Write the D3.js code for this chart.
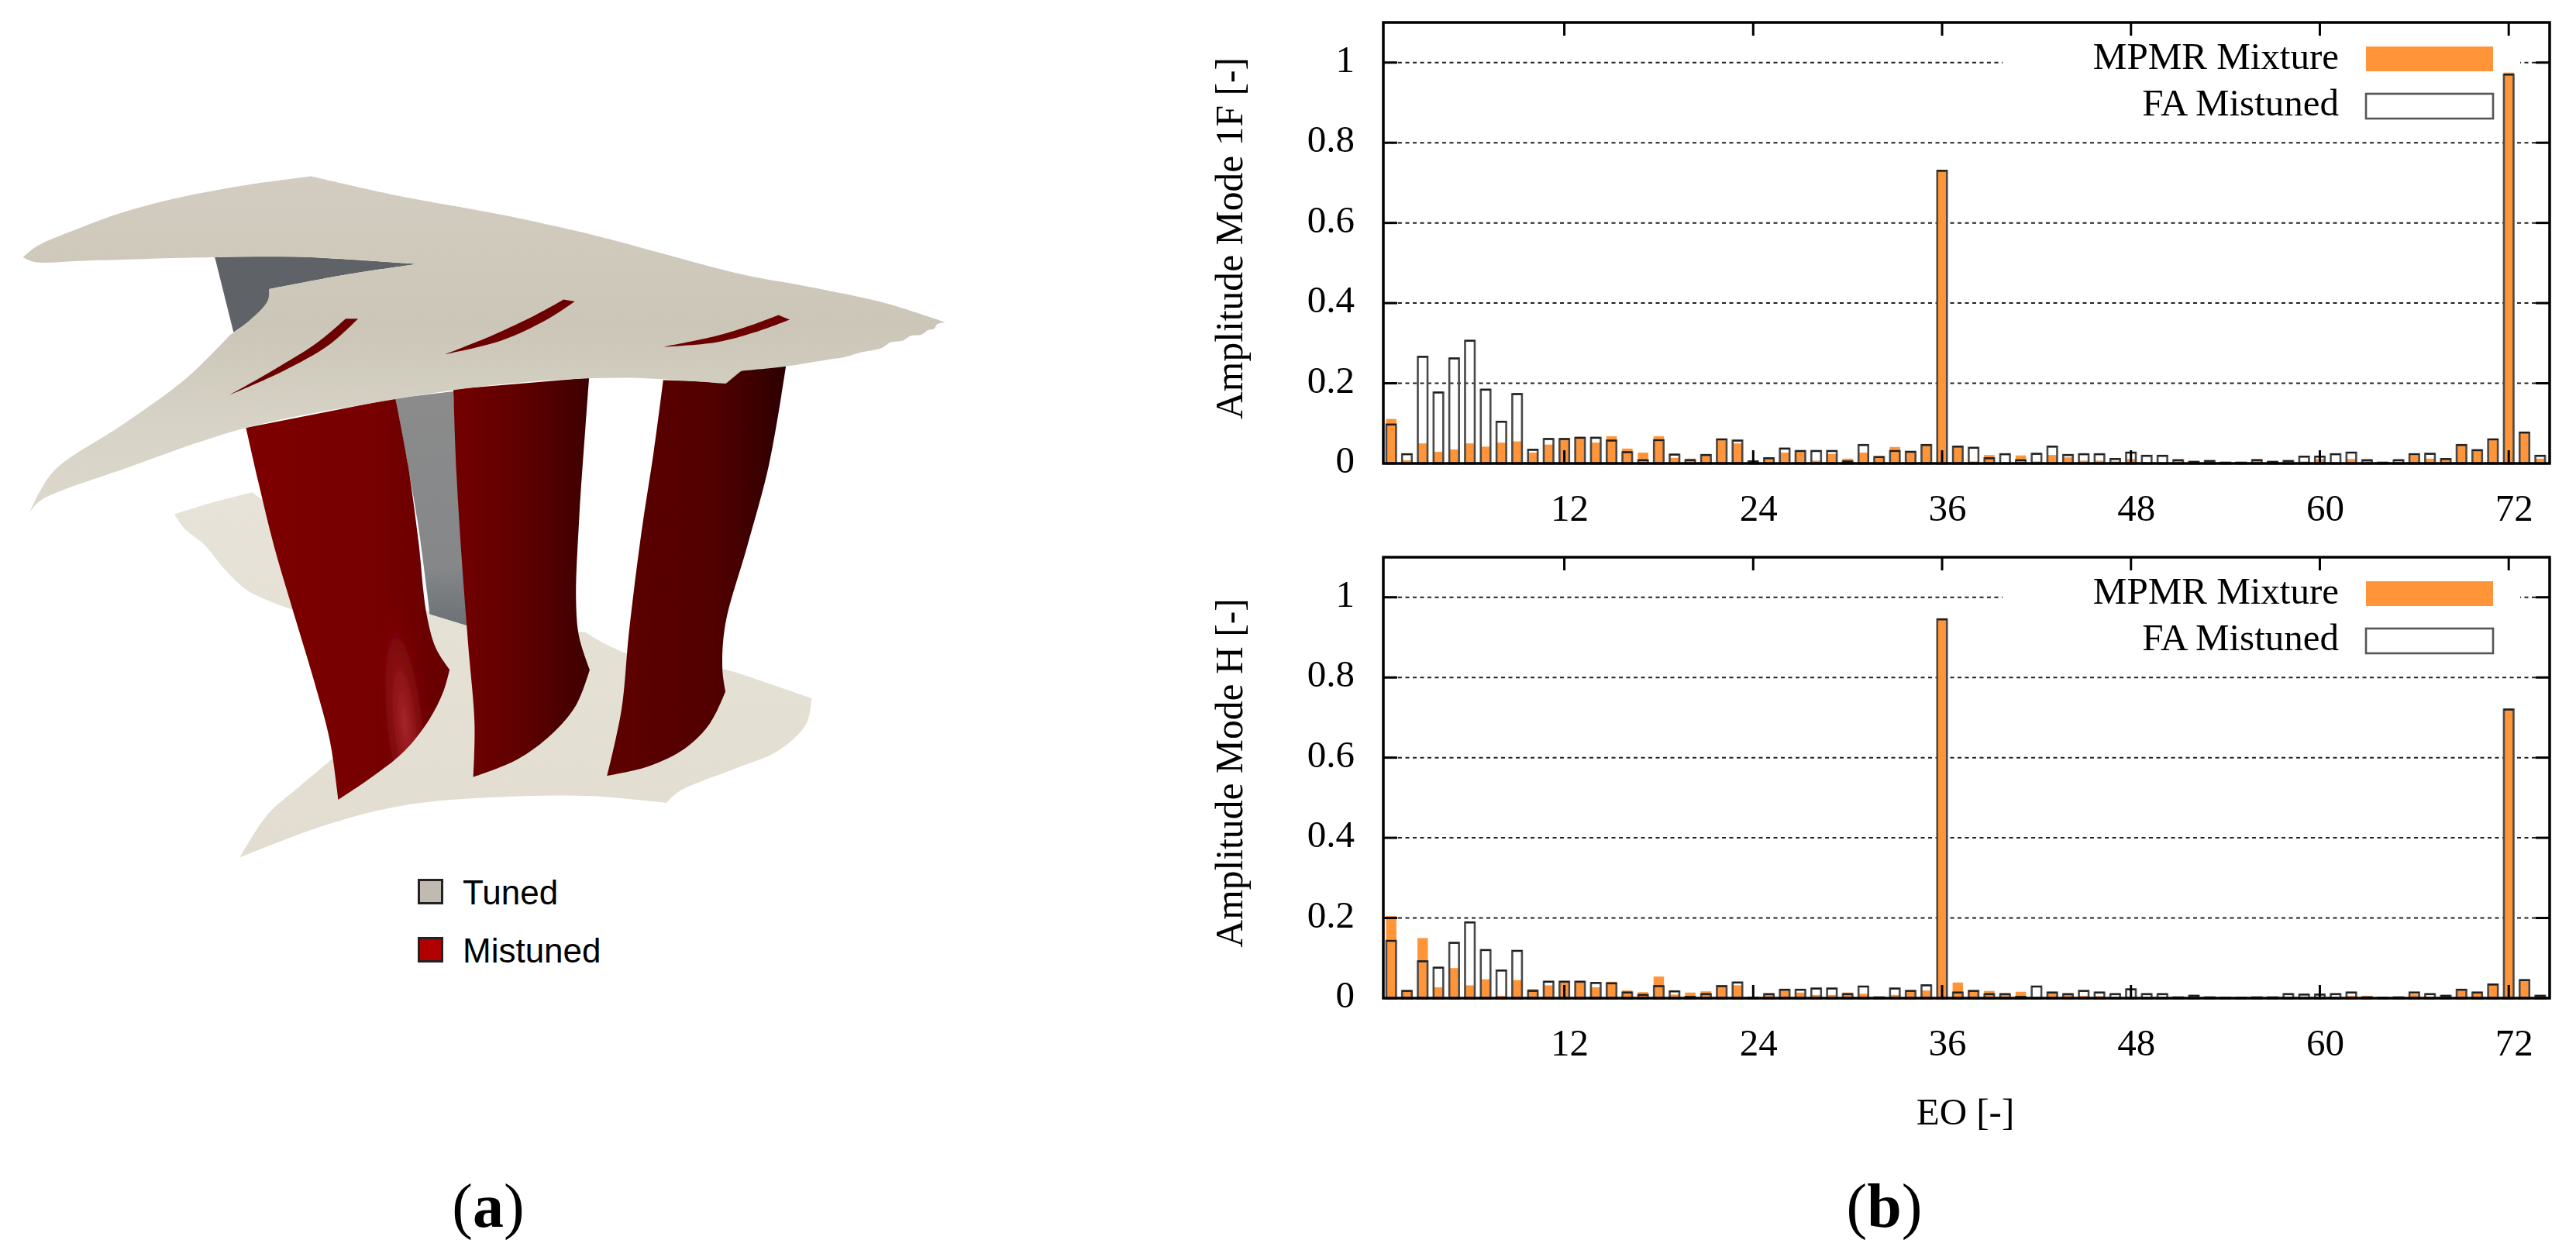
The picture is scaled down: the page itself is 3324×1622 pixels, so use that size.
<!DOCTYPE html>
<html><head><meta charset="utf-8">
<script src="https://cdnjs.cloudflare.com/ajax/libs/d3/7.8.5/d3.min.js"></script>
<style>html,body{margin:0;padding:0;background:#fff}svg{display:block}text{font-family:"Liberation Serif",serif;fill:#000}</style>
</head><body><svg id="c" width="3324" height="1622"></svg>
<script>
const orders = d3.range(1, 75);
const tickOrders = [12, 24, 36, 48, 60, 72];
const tickAmps = [0.2, 0.4, 0.6, 0.8, 1];
const seriesNames = ["MPMR Mixture", "FA Mistuned"];
const mpmr1F = [.111,.008,.05,.029,.035,.05,.042,.052,.055,.027,.047,.061,.066,.052,.068,.037,.027,.068,.014,.012,.019,.06,.05,.006,.013,.027,.031,.007,.024,.012,.027,.016,.041,.027,.046,.73,.042,.005,.021,.002,.02,.005,.021,.015,.007,.007,.005,.011,.003,.002,.008,.006,.006,.001,.001,.011,.005,.003,.005,.011,.002,.011,.007,.001,.005,.02,.012,.011,.046,.033,.06,.975,.077,.012];
const fa1F = [.097,.023,.266,.177,.262,.306,.184,.104,.173,.034,.061,.061,.064,.064,.057,.028,.008,.058,.022,.008,.021,.06,.057,.005,.013,.037,.031,.031,.031,.005,.046,.016,.031,.029,.046,.73,.042,.039,.013,.023,.008,.024,.042,.021,.023,.023,.011,.027,.019,.019,.008,.004,.006,.002,.002,.008,.004,.006,.017,.017,.023,.027,.008,.002,.008,.023,.024,.011,.046,.033,.06,.97,.077,.019];
const mpmrH = [.205,.018,.15,.027,.075,.032,.047,.006,.045,.023,.032,.041,.041,.027,.041,.019,.015,.054,.009,.014,.017,.03,.032,.001,.01,.021,.014,.008,.008,.014,.011,.001,.008,.018,.019,.945,.039,.018,.018,.01,.016,.003,.014,.01,.006,.005,.003,.003,.001,.001,.001,.001,.001,.002,.002,.001,.001,.003,.004,.004,.002,.006,.006,.002,.001,.01,.003,.006,.021,.014,.034,.72,.045,.006];
const faH = [.143,.018,.092,.076,.138,.189,.12,.069,.118,.018,.041,.041,.041,.038,.037,.014,.008,.03,.017,.003,.01,.03,.039,.001,.01,.021,.021,.024,.024,.01,.029,.002,.024,.018,.032,.945,.014,.018,.01,.01,.003,.029,.014,.01,.018,.014,.01,.022,.01,.01,.002,.006,.002,.001,.001,.002,.002,.01,.009,.009,.01,.014,.002,.001,.002,.014,.01,.006,.021,.014,.034,.72,.045,.006];

// Outlines of the rendered geometry in panel (a): each is a list of smooth edges that meet at corners.
const shroudEdges = [
 [[37,225],[60,200],[120,165],[200,125],[300,90],[400,65],[500,47]],
 [[500,47],[640,90],[800,130],[950,175],[1060,215],[1190,262],[1300,290],[1420,325],[1518,368]],
 [[1518,368],[1505,372],[1500,382],[1490,385],[1480,395],[1462,398],[1450,408],[1430,412],[1415,425],[1380,435],[1355,445],[1330,450],[1262,465],[1190,475]],
 [[1190,475],[1165,503]],
 [[1165,503],[1000,490],[800,505],[600,545],[395,600],[200,690],[65,760],[48,785]],
 [[48,785],[62,745],[90,690],[200,590],[300,490],[370,395]],
 [[370,395],[400,365],[430,320],[432,295]],
 [[432,295],[560,262],[670,240]],
 [[670,240],[500,225],[345,225],[150,232],[55,235],[37,225]]
];
const backDarkEdges = [[[345,225],[430,222],[500,225],[670,240]],[[670,240],[560,262],[432,295]],[[432,295],[432,320],[400,365],[375,390]],[[375,390],[345,225]]];
const backBladeEdges = [[[635,535],[728,520]],[[728,520],[735,700],[750,1035]],[[750,1035],[690,1010]],[[690,1010],[670,800],[635,535]]];
const hubEdges = [
 [[280,790],[340,765],[405,742]],
 [[405,742],[690,1005],[750,1030]],
 [[750,1030],[940,1050]],
 [[940,1050],[1005,1095],[1160,1130],[1240,1165],[1303,1195]],
 [[1303,1195],[1295,1250],[1250,1310],[1180,1350],[1090,1400],[1070,1425]],
 [[1070,1425],[950,1410],[800,1412],[650,1430],[520,1475],[385,1545]],
 [[385,1545],[430,1450],[480,1390],[545,1315]],
 [[545,1315],[470,1000]],
 [[470,1000],[400,960],[360,910],[330,860],[295,820],[280,790]]
];
const blade1Edges = [
 [[395,600],[415,720],[440,860],[470,1000],[505,1160],[530,1290],[543,1418]],
 [[543,1418],[600,1365],[650,1310],[690,1240],[712,1180],[722,1132]],
 [[722,1132],[700,1085],[685,1010],[672,850],[655,680],[635,535]]
];
const blade2Edges = [
 [[728,515],[733,700],[742,900],[752,1080],[762,1250],[760,1368]],
 [[760,1368],[830,1330],[885,1275],[925,1210],[947,1132]],
 [[947,1132],[930,1060],[925,980],[930,800],[940,600],[946,490]]
];
const blade3Edges = [
 [[1065,495],[1050,650],[1030,830],[1010,1050],[998,1220],[975,1365]],
 [[975,1365],[1040,1345],[1100,1305],[1140,1250],[1165,1180]],
 [[1165,1180],[1160,1130],[1165,1030],[1200,860],[1235,680],[1262,465]],
 [[1262,465],[1190,475],[1168,500]]
];
const slotEdges = [
 [[[368,528],[440,472],[510,412],[555,360]],[[555,360],[575,360]],[[575,360],[528,418],[455,475],[368,528]]],
 [[[715,438],[790,397],[860,352],[905,318]],[[905,318],[923,322]],[[923,322],[878,362],[805,408],[715,438]]],
 [[[1065,422],[1150,398],[1205,375],[1250,352]],[[1250,352],[1268,362]],[[1268,362],[1212,390],[1150,412],[1065,422]]]
];

const svg = d3.select("#c");
const defs = svg.append("defs");
defs.append("filter").attr("id","soft").attr("x","-5%").attr("y","-5%").attr("width","110%").attr("height","110%")
  .append("feGaussianBlur").attr("stdDeviation",0.75);
defs.append("filter").attr("id","edge").attr("x","-5%").attr("y","-5%").attr("width","110%").attr("height","110%")
  .append("feGaussianBlur").attr("stdDeviation",0.6);
function grad(id, stops, x1=0, y1=0, x2=1, y2=0){
  const g = defs.append("linearGradient").attr("id",id).attr("x1",x1).attr("y1",y1).attr("x2",x2).attr("y2",y2);
  stops.forEach(s=>g.append("stop").attr("offset",s[0]).attr("stop-color",s[1]));
}
grad("gShroud",[[0,"#d2cdc0"],[.45,"#cbc6b7"],[.75,"#d7d3c6"],[1,"#dcd8cc"]],0,0,0,1);
grad("gHub",[[0,"#e7e3d8"],[1,"#e2ddd0"]],0,0,0,1);
grad("gBack",[[0,"#8b8b8b"],[.75,"#858789"],[1,"#6c7175"]],0,0,0,1);
grad("gB1",[[0,"#7c0000"],[.6,"#780000"],[1,"#660000"]],0,0,1,0);
grad("gB2",[[0,"#730000"],[.5,"#5f0000"],[1,"#3e0000"]],0,0,1,0);
grad("gB3",[[0,"#5e0000"],[.6,"#520000"],[1,"#2c0000"]],0,0,1,0);
const rg = defs.append("radialGradient").attr("id","gHi");
[[0,"#aa2a30",.9],[.35,"#a02024",.65],[.7,"#8c1014",.3],[1,"#7c0000",0]].forEach(s=>rg.append("stop").attr("offset",s[0]).attr("stop-color",s[1]).attr("stop-opacity",s[2]));

// panel (a)
const gx = d3.scaleLinear().domain([0,1568]).range([0,1260]);
const gy = d3.scaleLinear().domain([0,1568]).range([200,1120]);
const smooth = d3.line().x(d=>gx(d[0])).y(d=>gy(d[1])).curve(d3.curveCatmullRom.alpha(0.5));
const edgesToPath = edges => edges.map((e,i)=>{ const s = smooth(e); return i ? "L"+s.slice(1) : s; }).join("")+"Z";
const left = svg.append("g").attr("filter","url(#edge)");
const shape = (edges, fill) => left.append("path").attr("d",edgesToPath(edges)).attr("fill",fill);
shape(hubEdges,"url(#gHub)");
shape(backDarkEdges,"#5f6367");
shape(backBladeEdges,"url(#gBack)");
shape(blade1Edges,"url(#gB1)");
defs.append("clipPath").attr("id","b1clip").append("path").attr("d",edgesToPath(blade1Edges));
const hiG = left.append("g").attr("clip-path","url(#b1clip)");
hiG.append("ellipse").attr("cx",gx(650)).attr("cy",gy(1250)).attr("rx",34).attr("ry",170)
  .attr("transform",`rotate(-6 ${gx(650)} ${gy(1250)})`).attr("fill","url(#gHi)");
shape(blade2Edges,"url(#gB2)");
shape(blade3Edges,"url(#gB3)");
shape(shroudEdges,"url(#gShroud)");
slotEdges.forEach(p=>shape(p,"#6d0505"));

// panel (a) legend
const matNames = ["Tuned","Mistuned"];
const matColors = ["#c0bab0","#b00000"];
const matY = d3.scalePoint().domain(matNames).range([1135.5,1210.5]);
matNames.forEach((m,i)=>{
  svg.append("rect").attr("x",540.5).attr("y",matY(m)).attr("width",30).attr("height",30).attr("fill",matColors[i]).attr("stroke","#222").attr("stroke-width",3);
  svg.append("text").attr("x",597).attr("y",matY(m)+31.5).attr("font-size",44).style("font-family","'Liberation Sans',sans-serif").text(m);
});
svg.append("text").attr("x",630).attr("y",1583).attr("text-anchor","middle").attr("font-size",80).html('(<tspan font-weight="bold">a</tspan>)');
svg.append("text").attr("x",2431.5).attr("y",1583).attr("text-anchor","middle").attr("font-size",80).html('(<tspan font-weight="bold">b</tspan>)');

// panel (b)
const x = d3.scaleLinear().domain([0.5,74.6]).range([1785,3290]);
const barW = 12.5;
function panel(top, bottom, mpmr, fa, title){
  const y = d3.scaleLinear().domain([0,1.1]).range([bottom, top]);
  const g = svg.append("g").attr("filter","url(#soft)");
  g.selectAll(".grid").data(tickAmps).join("line")
    .attr("x1",x.range()[0]).attr("x2",x.range()[1]).attr("y1",d=>y(d)).attr("y2",d=>y(d))
    .attr("stroke","#222").attr("stroke-width",2).attr("stroke-dasharray","5 4.5");
  g.append("rect").attr("x",2584).attr("y",top+22).attr("width",668).attr("height",y(0.8)-top-32).attr("fill","#fff");
  g.selectAll(".m").data(orders).join("rect")
    .attr("x",d=>x(d)-barW/2-0.5).attr("width",barW+1)
    .attr("y",(d,i)=>y(mpmr[i])).attr("height",(d,i)=>y(0)-y(mpmr[i])).attr("fill","#ff9537");
  g.selectAll(".f").data(orders).join("rect")
    .attr("x",d=>x(d)-barW/2).attr("width",barW)
    .attr("y",(d,i)=>y(fa[i])).attr("height",(d,i)=>y(0)-y(fa[i]))
    .attr("fill","none").attr("stroke","#4a4a4a").attr("stroke-width",2.6);
  g.selectAll(".c").data(orders).join("line")
    .attr("x1",d=>x(d)-barW/2).attr("x2",d=>x(d)+barW/2)
    .attr("y1",(d,i)=>y(fa[i])).attr("y2",(d,i)=>y(fa[i]))
    .attr("stroke","#1c1c1c").attr("stroke-width",2);
  const tx = g.append("g");
  tickOrders.forEach(t=>{
    tx.append("line").attr("x1",x(t)).attr("x2",x(t)).attr("y1",top).attr("y2",top+17).attr("stroke","#000").attr("stroke-width",3);
    tx.append("line").attr("x1",x(t)).attr("x2",x(t)).attr("y1",bottom).attr("y2",bottom-17).attr("stroke","#000").attr("stroke-width",3);
  });
  tickAmps.forEach(t=>{
    tx.append("line").attr("x1",x.range()[0]).attr("x2",x.range()[0]+18).attr("y1",y(t)).attr("y2",y(t)).attr("stroke","#000").attr("stroke-width",3);
    tx.append("line").attr("x1",x.range()[1]).attr("x2",x.range()[1]-18).attr("y1",y(t)).attr("y2",y(t)).attr("stroke","#000").attr("stroke-width",3);
  });
  g.append("rect").attr("x",1785).attr("y",top).attr("width",1505).attr("height",bottom-top).attr("fill","none").attr("stroke","#000").attr("stroke-width",3.5);
  g.append("rect").attr("x",3053).attr("y",top+31).attr("width",164).attr("height",32).attr("fill","#ff9537");
  g.append("rect").attr("x",3053).attr("y",top+92).attr("width",164).attr("height",32).attr("fill","none").attr("stroke","#555").attr("stroke-width",2.6);
  const t = svg.append("g");
  t.append("text").attr("x",3018).attr("y",top+59.5).attr("text-anchor","end").attr("font-size",49).text(seriesNames[0]);
  t.append("text").attr("x",3018).attr("y",top+119.5).attr("text-anchor","end").attr("font-size",49).text(seriesNames[1]);
  tickOrders.forEach(v=>t.append("text").attr("x",x(v)+7).attr("y",bottom+74).attr("text-anchor","middle").attr("font-size",49).text(v));
  [0,...tickAmps].forEach(v=>t.append("text").attr("x",1748).attr("y",y(v)+12).attr("text-anchor","end").attr("font-size",49).text(v));
  t.append("text").attr("transform",`translate(1603,${(top+bottom)/2-6}) rotate(-90)`).attr("text-anchor","middle").attr("font-size",49.6).text(title);
}
panel(29,598,mpmr1F,fa1F,"Amplitude Mode 1F [-]");
panel(719,1288,mpmrH,faH,"Amplitude Mode H [-]");
svg.append("text").attr("x",2536).attr("y",1451).attr("text-anchor","middle").attr("font-size",49).text("EO [-]");
</script></body></html>
